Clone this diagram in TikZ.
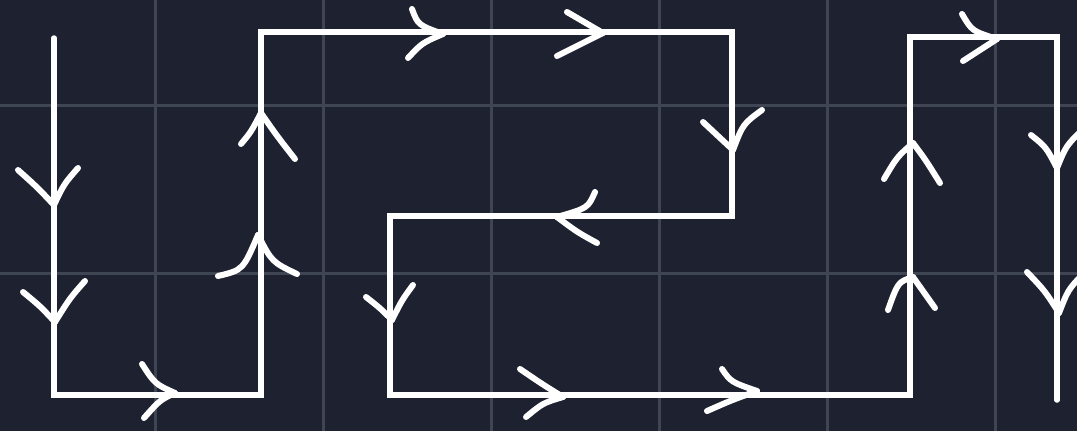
\documentclass[tikz,border=0pt]{standalone}
\begin{document}
\begin{tikzpicture}[x=1pt,y=-1pt,
  gridline/.style={draw=gridcol,line width=3pt},
  trace/.style={draw=white,line width=5.5pt,line join=miter,line cap=round},
  arm/.style={draw=white,line width=6pt,line cap=round}]
\definecolor{bgcol}{HTML}{1E2230}
\definecolor{gridcol}{HTML}{404553}
\fill[bgcol] (0,0) rectangle (1077,431);
\useasboundingbox (0,0) rectangle (1077,431);
% grid
\foreach \gx in {155,323,491,659,827,995} \draw[gridline] (\gx,0) -- (\gx,431);
\foreach \gy in {105,273} \draw[gridline] (0,\gy) -- (1077,\gy);
% path corners
\coordinate (p0) at (54,38);
\coordinate (p1) at (54,395);
\coordinate (p2) at (261,395);
\coordinate (p3) at (261,32);
\coordinate (p4) at (732,32);
\coordinate (p5) at (732,216);
\coordinate (p6) at (390,216);
\coordinate (p7) at (390,395);
\coordinate (p8) at (910,395);
\coordinate (p9) at (910,37);
\coordinate (p10) at (1057,37);
\coordinate (p11) at (1057,400);
\draw[trace] (p0) -- (p1) -- (p2) -- (p3) -- (p4) -- (p5) -- (p6) -- (p7) -- (p8) -- (p9) -- (p10) -- (p11);
% arrow tips
\coordinate (t1) at (54,205);
\coordinate (t2) at (55,322);
\coordinate (t3) at (175,393);
\coordinate (t4) at (258,235);
\coordinate (t5) at (261,113);
\coordinate (t6) at (443,34);
\coordinate (t7) at (603,33);
\coordinate (t8) at (733,150);
\coordinate (t9) at (557,217);
\coordinate (t10) at (392,320);
\coordinate (t11) at (563,397);
\coordinate (t12) at (757,391);
\coordinate (t13) at (913,143);
\coordinate (t14) at (913,277);
\coordinate (t15) at (997,39);
\coordinate (t16) at (1057,168);
\coordinate (t17) at (1059,313);
% arms
\draw[arm] (t1) .. controls (37,187) .. (18,170);
\draw[arm] (t1) .. controls (64,184) .. (78,168);
\draw[arm] (t2) .. controls (40,306) .. (23,292);
\draw[arm] (t2) .. controls (70,298) .. (85,281);
\draw[arm] (t3) .. controls (155,384) .. (142,364);
\draw[arm] (t3) .. controls (160,400) .. (144,418);
\draw[arm] (t4) .. controls (243,270) .. (218,276);
\draw[arm] (t4) .. controls (272,262) .. (297,274);
\draw[arm] (t5) .. controls (251,132) .. (241,144);
\draw[arm] (t5) .. controls (277,136) .. (295,159);
\draw[arm] (t6) .. controls (418,25) .. (412,9);
\draw[arm] (t6) .. controls (422,43) .. (408,58);
\draw[arm] (t7) .. controls (585,22) .. (567,12);
\draw[arm] (t7) .. controls (580,44) .. (557,56);
\draw[arm] (t8) .. controls (718,136) .. (703,122);
\draw[arm] (t8) .. controls (743,124) .. (762,110);
\draw[arm] (t9) .. controls (588,208) .. (595,192);
\draw[arm] (t9) .. controls (577,232) .. (597,243);
\draw[arm] (t10) .. controls (380,308) .. (366,297);
\draw[arm] (t10) .. controls (402,300) .. (413,285);
\draw[arm] (t11) .. controls (542,384) .. (520,369);
\draw[arm] (t11) .. controls (543,403) .. (526,417);
\draw[arm] (t12) .. controls (731,382) .. (722,369);
\draw[arm] (t12) .. controls (732,400) .. (707,411);
\draw[arm] (t13) .. controls (897,157) .. (884,179);
\draw[arm] (t13) .. controls (925,159) .. (940,183);
\draw[arm] (t14) .. controls (898,282) .. (888,310);
\draw[arm] (t14) .. controls (924,292) .. (935,308);
\draw[arm] (t15) .. controls (972,31) .. (962,14);
\draw[arm] (t15) .. controls (980,50) .. (963,61);
\draw[arm] (t16) .. controls (1046,147) .. (1031,135);
\draw[arm] (t16) .. controls (1066,146) .. (1082,130);
\draw[arm] (t17) .. controls (1045,291) .. (1027,272);
\draw[arm] (t17) .. controls (1068,290) .. (1082,275);
\end{tikzpicture}
\end{document}
